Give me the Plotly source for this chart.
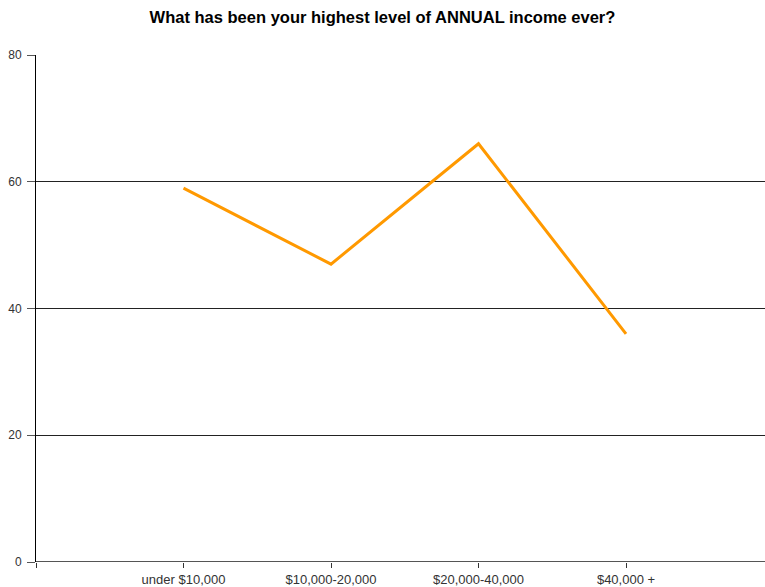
import plotly.graph_objects as go

categories = ["under $10,000", "$10,000-20,000", "$20,000-40,000", "$40,000 +"]
values = [59, 47, 66, 36]
y_ticks = [0, 20, 40, 60, 80]

x_pos = list(range(len(categories)))

fig = go.Figure()
fig.add_trace(go.Scatter(
    x=x_pos, y=values, mode="lines",
    line=dict(color="#FF9900", width=3),
    hoverinfo="skip", showlegend=False,
))

fig.update_layout(
    width=765, height=587,
    margin=dict(l=36, r=0, t=55, b=25),
    paper_bgcolor="white", plot_bgcolor="white",
    font=dict(family="Liberation Sans, Arial, sans-serif", size=12, color="#333333"),
    title=dict(
        text="<b>What has been your highest level of ANNUAL income ever?</b>",
        x=0.5, xanchor="center", y=1 - 17 / 587, yanchor="middle",
        font=dict(family="Liberation Sans, Arial, sans-serif", size=16.5, color="#000000"),
    ),
    xaxis=dict(
        range=[-1, -1 + 729 / 147.5],
        tickmode="array",
        tickvals=[-1] + x_pos,
        ticktext=[""] + categories,
        ticks="outside", ticklen=5, tickcolor="#333333",
        showgrid=False, zeroline=False,
        showline=False,
        tickfont=dict(size=13, color="#333333"),
    ),
    yaxis=dict(
        range=[0, 80],
        tickmode="array", tickvals=y_ticks,
        ticks="outside", ticklen=8, tickcolor="#555555",
        ticklabelstandoff=3,
        showgrid=True, gridcolor="#222222", gridwidth=1,
        zeroline=False,
        showline=True, linecolor="#000000", linewidth=1,
        tickfont=dict(size=12, color="#333333"),
    ),
    shapes=[dict(type="line", xref="paper", yref="y", x0=0, x1=1, y0=0, y1=0,
                 line=dict(color="#555555", width=2), layer="above")],
)

fig.write_html(
    "out.html",
    config={"displayModeBar": False},
    post_script="document.body.style.margin='0';document.body.style.overflow='hidden';",
)
